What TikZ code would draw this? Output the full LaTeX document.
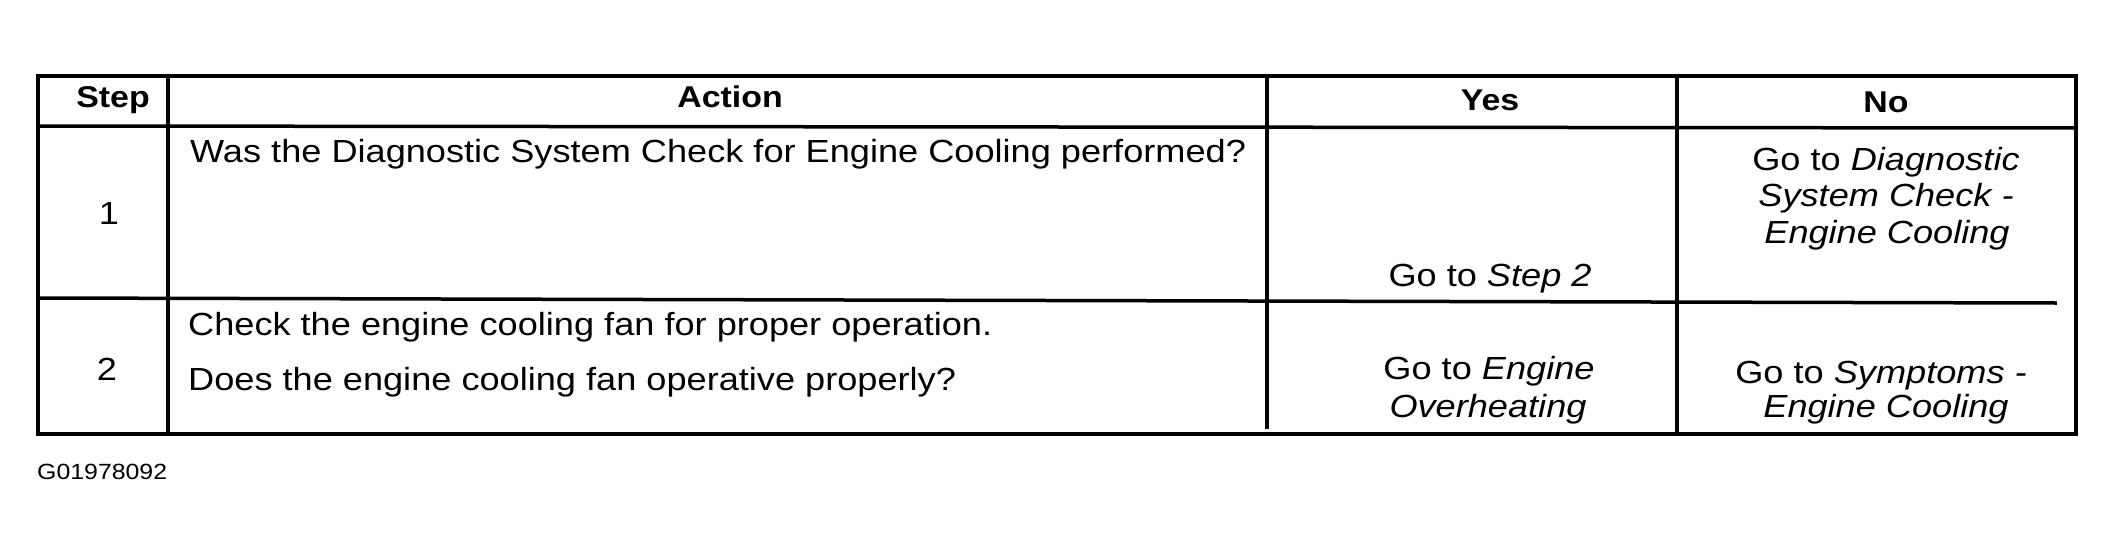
\documentclass[tikz,border=0pt]{standalone}
\usepackage{fontspec}
\setmainfont{Liberation Sans}[FakeStretch=1.13]
\begin{document}
\begin{tikzpicture}[x=1pt,y=-1pt,
  grid/.style={line width=3.5pt,line cap=rect},
  hdr/.style={font=\fontsize{30}{34}\selectfont\bfseries,anchor=base,inner sep=0pt},
  body/.style={font=\fontsize{32}{36}\selectfont,anchor=base west,inner sep=0pt},
  cell/.style={font=\fontsize{32}{36}\selectfont,anchor=base,inner sep=0pt},
  tag/.style={font=\fontsize{22}{26}\selectfont,anchor=base west,inner sep=0pt}]
\useasboundingbox (0,0) rectangle (2114,556);
% grid
\draw[grid] (38,76) rectangle (2076,434);
\draw[grid] (38,126) -- (2076,128);
\draw[grid] (38,298) -- (2055,303);
\draw[grid] (168,76) -- (168,434);
\draw[grid] (1267,76) -- (1267,427);
\draw[grid] (1677,76) -- (1677,434);
% header
\node[hdr] (hstep) at (113,108) {Step};
\node[hdr] (hact) at (730,108) {Action};
\node[hdr] (hyes) at (1490,111) {Yes};
\node[hdr] (hno) at (1886,113) {No};
% row 1
\node[cell] (s1) at (109,224) {1};
\node[body] (a1) at (190,163) {Was the Diagnostic System Check for Engine Cooling performed?};
\node[cell] (y1) at (1490,286) {Go to \textit{Step 2}};
\node[cell] (n1a) at (1886,171) {Go to \textit{Diagnostic}};
\node[cell] (n1b) at (1886,207) {\textit{System Check -}};
\node[cell] (n1c) at (1887,243) {\textit{Engine Cooling}};
% row 2
\node[cell] (s2) at (107,380) {2};
\node[body] (a2a) at (188,335) {Check the engine cooling fan for proper operation.};
\node[body] (a2b) at (188,390) {Does the engine cooling fan operative properly?};
\node[cell] (y2a) at (1489,379) {Go to \textit{Engine}};
\node[cell] (y2b) at (1488,417) {\textit{Overheating}};
\node[cell] (n2a) at (1881,383) {Go to \textit{Symptoms -}};
\node[cell] (n2b) at (1886,417) {\textit{Engine Cooling}};
% figure id
\node[tag] (gid) at (37,479) {G01978092};
\end{tikzpicture}
\end{document}
